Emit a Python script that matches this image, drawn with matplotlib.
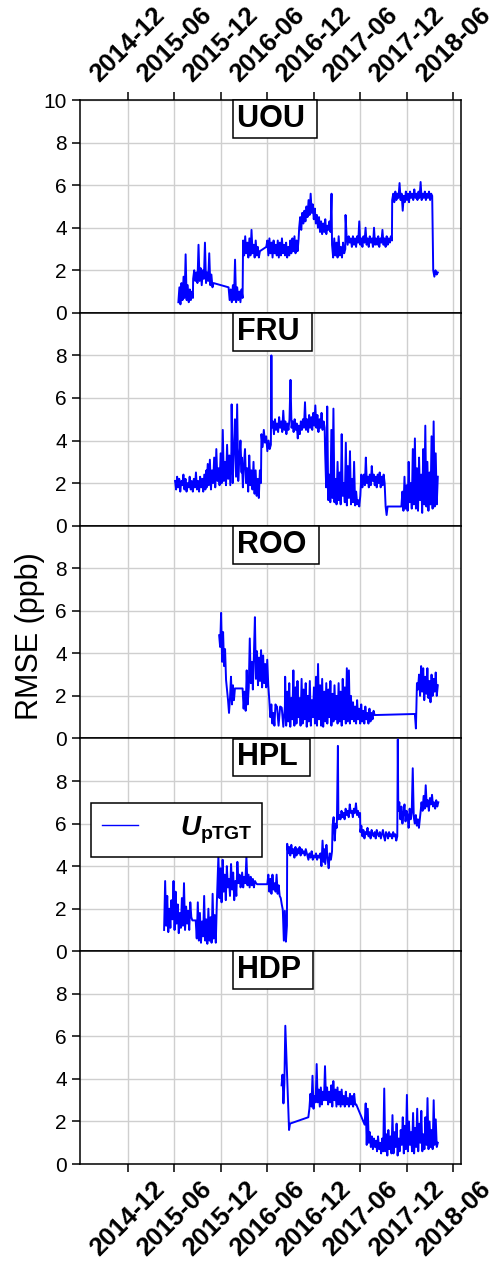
import numpy as np
import matplotlib
matplotlib.use("Agg")
import matplotlib.pyplot as plt
import matplotlib.dates as mdates

plt.rcParams['font.family'] = ['Liberation Sans', 'DejaVu Sans']
plt.rcParams['mathtext.fontset'] = 'custom'
plt.rcParams['mathtext.it'] = 'Liberation Sans:italic:bold'
plt.rcParams['mathtext.bf'] = 'Liberation Sans:bold'
plt.rcParams['mathtext.rm'] = 'Liberation Sans'

# RMSE of the pTGT uncertainty per station, in segments (start, end, values)
uou = [
    ("2015-06-18", "2015-08-14", [0.5, 1.2, 0.4, 1.4, 0.6, 1.7, 0.7, 2.75, 0.6, 1.3, 0.5, 1.1, 0.6, 1.0, 0.7]),
    ("2015-08-15", "2015-11-03", [1.6, 2.0, 1.5, 1.9, 1.4, 3.2, 1.5, 2.1, 1.3, 2.0, 1.6, 3.3, 1.4, 1.9,
                                  1.5, 2.8, 1.3, 1.8, 1.2, 1.4]),
    ("2016-01-01", "2016-02-25", [1.2, 0.6, 1.1, 0.5, 1.3, 0.6, 2.5, 0.5, 1.2, 0.6, 1.0, 0.5, 1.1, 0.7]),
    ("2016-02-27", "2016-05-03", [3.4, 2.7, 3.6, 2.8, 3.3, 2.6, 3.5, 2.7, 3.9, 2.8, 3.2, 2.6, 3.4, 2.7,
                                  3.1, 2.6, 2.9]),
    ("2016-05-28", "2016-10-02", [3.1, 3.4, 2.7, 3.5, 2.8, 3.3, 2.6, 3.4, 2.8, 3.2, 2.7, 3.4, 2.6, 3.3,
                                  2.7, 3.5, 2.8, 3.2, 2.7, 3.3, 2.6, 3.1, 2.7, 3.4, 2.8, 3.5, 2.9, 3.6,
                                  2.8, 3.4, 2.9, 3.5]),
    ("2016-10-04", "2017-02-08", [4.0, 4.5, 3.9, 4.7, 4.2, 4.8, 4.3, 5.0, 4.5, 5.3, 4.6, 5.6, 4.7, 5.1,
                                  4.4, 4.9, 4.2, 4.6, 4.0, 4.5, 3.8, 4.3, 3.7, 4.2, 3.8, 4.4, 3.7, 4.1,
                                  3.9, 4.3, 3.8, 5.6]),
    ("2017-02-10", "2017-04-03", [3.2, 2.6, 3.5, 2.7, 3.3, 2.6, 3.6, 2.7, 3.1, 2.6, 3.3, 2.8, 3.0]),
    ("2017-04-04", "2017-10-03", [4.6, 3.6, 3.2, 3.6, 3.3, 3.5, 3.1, 3.6, 3.2, 3.5, 3.1, 3.6, 3.3, 4.3,
                                  3.2, 3.5, 3.1, 3.6, 3.3, 4.0, 3.2, 3.5, 3.1, 3.6, 3.3, 3.5, 3.1, 4.0,
                                  3.2, 3.5, 3.2, 3.6, 3.1, 3.5, 3.3, 3.9, 3.2, 3.5, 3.1, 3.6, 3.2, 3.5,
                                  3.3, 3.6, 3.4]),
    ("2017-10-04", "2018-03-10", [5.3, 5.6, 5.2, 5.7, 5.3, 5.6, 5.4, 6.1, 5.3, 5.6, 4.8, 5.5, 5.2, 5.7,
                                  5.3, 5.6, 5.2, 5.7, 5.4, 5.6, 5.3, 5.8, 5.4, 5.6, 5.3, 5.7, 5.4, 6.15,
                                  5.3, 5.6, 5.4, 5.7, 5.3, 5.6, 5.4, 5.7, 5.3, 5.6, 5.5]),
    ("2018-03-14", "2018-04-01", [2.0, 1.7, 2.0, 1.8, 1.9]),
]

fru = [
    ("2015-06-05", "2015-10-06", [2.1, 1.7, 2.3, 1.8, 2.2, 1.6, 2.1, 1.9, 2.4, 1.7, 2.2, 1.6, 2.0, 1.8,
                                  2.3, 1.7, 2.1, 1.6, 2.2, 1.8, 2.5, 1.7, 2.1, 1.6, 2.3, 1.8, 2.2, 1.6,
                                  2.4, 1.7, 2.6]),
    ("2015-10-07", "2016-01-12", [1.8, 2.9, 1.9, 3.1, 1.7, 2.6, 2.0, 3.2, 1.8, 3.6, 2.1, 2.7, 1.9, 3.4,
                                  2.0, 4.5, 2.1, 3.0, 1.9, 3.8, 2.2, 3.3, 1.9, 3.5]),
    ("2016-01-13", "2016-02-21", [5.7, 2.0, 3.6, 5.0, 2.3, 5.7, 2.1, 3.2, 4.0, 2.5]),
    ("2016-02-22", "2016-05-07", [3.2, 1.8, 2.9, 3.6, 2.0, 2.7, 1.6, 3.3, 1.9, 2.6, 1.7, 3.0, 1.5, 2.6,
                                  1.4, 2.2, 1.3, 2.6, 2.0]),
    ("2016-05-09", "2016-06-15", [4.3, 3.7, 4.5, 3.9, 4.2, 3.5, 4.0, 3.6, 3.8]),
    ("2016-06-17", "2016-06-17", [8.0]),
    ("2016-06-19", "2017-01-12", [4.6, 4.9, 4.3, 5.0, 4.5, 4.8, 4.4, 5.1, 4.6, 4.9, 4.4, 5.4, 4.5, 4.9,
                                  4.3, 4.8, 4.5, 5.0, 6.85, 4.6, 4.9, 4.4, 5.0, 4.5, 4.8, 4.1, 4.7, 4.3,
                                  4.9, 4.5, 5.0, 4.6, 5.8, 4.5, 5.0, 4.4, 5.2, 4.6, 5.1, 4.5, 5.3, 4.7,
                                  5.65, 4.6, 5.2, 4.4, 5.0, 4.6, 5.3, 4.5, 4.9, 4.6]),
    ("2017-01-14", "2017-06-09", [3.4, 1.8, 5.6, 1.2, 2.4, 1.1, 4.5, 1.3, 5.5, 1.1, 2.2, 1.0, 3.0, 1.2,
                                  2.5, 1.0, 4.3, 1.4, 2.0, 1.1, 3.9, 0.95, 2.8, 1.3, 3.5, 1.0, 2.2, 1.1,
                                  3.0, 0.95, 1.6, 1.0, 1.2, 0.9, 1.4, 2.4, 1.8]),
    ("2017-06-11", "2017-09-16", [2.1, 2.4, 1.9, 3.2, 2.0, 2.3, 1.8, 2.4, 1.9, 2.8, 2.1, 2.4, 1.9, 2.3,
                                  1.8, 2.4, 2.0, 2.5, 1.8, 2.3, 1.9, 2.4, 2.0, 0.9, 0.5, 0.9]),
    ("2017-11-09", "2018-04-01", [0.9, 1.6, 0.7, 2.3, 0.8, 1.9, 0.7, 3.0, 1.1, 2.0, 0.8, 3.6, 1.0, 4.1,
                                  0.8, 2.7, 0.7, 3.2, 1.2, 2.4, 0.6, 3.6, 1.0, 4.7, 0.9, 3.0, 0.7, 2.5,
                                  1.0, 4.2, 0.8, 4.9, 0.9, 3.4, 1.0, 2.3]),
]

roo = [
    ("2015-11-25", "2016-01-26", [4.85, 4.3, 5.9, 3.6, 5.0, 3.4, 4.2, 2.75, 2.3, 1.8, 1.2, 1.9, 2.9,
                                  1.6, 2.5, 1.8, 2.35]),
    ("2016-02-25", "2016-07-07", [2.35, 1.4, 2.2, 1.3, 3.2, 1.6, 2.4, 4.7, 2.6, 3.6, 2.3, 3.9, 5.7, 2.8,
                                  4.1, 2.5, 3.8, 2.7, 4.15, 2.4, 3.9, 2.6, 3.5, 2.4, 3.7, 2.5, 1.8, 1.0,
                                  1.6, 0.7, 1.2, 0.6, 1.6, 1.5]),
    ("2016-07-09", "2016-08-09", [1.5, 0.6, 1.5, 1.45, 0.55, 1.5]),
    ("2016-08-10", "2017-07-27", [2.9, 0.6, 2.2, 0.8, 2.6, 0.55, 1.9, 0.9, 3.2, 0.6, 2.4, 0.7, 2.7, 1.0,
                                  1.9, 0.6, 2.8, 0.7, 2.3, 0.9, 2.6, 0.55, 2.0, 0.8, 2.7, 0.6, 1.8, 1.0,
                                  2.4, 0.7, 2.9, 0.6, 3.5, 0.9, 2.5, 0.6, 2.8, 0.55, 2.2, 0.8, 2.6, 0.7,
                                  2.3, 1.0, 2.7, 0.6, 2.1, 0.8, 2.5, 0.9, 2.0, 0.7, 2.6, 0.8, 2.2, 0.6,
                                  2.8, 0.9, 2.4, 0.7, 3.3, 0.8, 3.2, 0.7, 2.0, 0.9, 1.7, 0.8, 1.5, 0.7,
                                  1.8, 0.9, 1.4, 0.7, 1.6, 0.8, 1.3, 0.7, 1.5, 0.9, 1.2, 0.7, 1.4, 0.8,
                                  1.2, 0.9, 1.3, 1.1]),
    ("2018-01-01", "2018-04-01", [1.15, 0.47, 2.6, 2.3, 3.0, 2.0, 3.4, 2.2, 3.3, 1.8, 2.9, 2.1, 3.3,
                                  1.9, 2.7, 1.7, 3.0, 2.0, 2.8, 2.2, 3.1, 2.0, 2.5]),
]

hpl = [
    ("2015-04-23", "2015-08-12", [1.0, 3.3, 1.2, 2.6, 0.9, 2.0, 1.1, 2.4, 1.5, 3.3, 1.0, 2.8, 1.3, 2.2,
                                  0.85, 1.8, 1.1, 2.5, 1.2, 3.2, 1.0, 2.1, 1.3, 1.9, 1.0, 2.3, 1.6, 1.45]),
    ("2015-08-25", "2015-11-16", [1.45, 0.6, 2.3, 0.5, 1.8, 0.4, 1.4, 0.7, 2.6, 0.5, 1.5, 0.35, 2.0,
                                  0.5, 1.6, 0.4, 2.7, 0.6, 1.7, 0.4, 2.3]),
    ("2015-11-18", "2016-02-17", [3.0, 4.5, 2.5, 3.9, 2.3, 4.3, 2.8, 3.6, 2.4, 4.0, 3.0, 3.4, 2.6, 4.1,
                                  2.9, 3.7, 2.4, 3.3, 2.6, 4.2, 3.2, 3.6, 3.0]),
    ("2016-02-19", "2016-04-22", [3.1, 3.7, 3.0, 3.5, 3.2, 4.45, 3.1, 3.6, 3.0, 3.5, 3.1, 3.4, 3.0, 3.3,
                                  3.2, 3.15]),
    ("2016-06-01", "2016-08-17", [3.15, 3.6, 2.8, 3.4, 2.7, 3.6, 2.9, 3.2, 2.8, 3.6, 2.7, 3.1, 2.6, 2.5,
                                  2.2, 1.95, 0.5, 1.9, 0.45, 1.2]),
    ("2016-08-18", "2016-11-03", [5.05, 4.6, 4.9, 4.5, 5.0, 4.6, 4.8, 4.4, 4.9, 4.5, 4.8, 4.6, 4.9, 4.5,
                                  4.8, 4.6, 4.7, 4.5, 4.8, 4.6]),
    ("2016-11-05", "2017-01-08", [4.5, 4.3, 4.6, 4.4, 4.7, 4.3, 4.5, 4.4, 4.6, 4.3, 4.5, 4.4, 4.6, 4.0,
                                  5.2, 4.2]),
    ("2017-01-10", "2017-02-10", [4.8, 4.1, 5.0, 4.4, 3.9, 4.6, 4.3, 4.7]),
    ("2017-02-12", "2017-03-05", [5.9, 6.3, 5.2, 6.0, 5.8, 9.65]),
    ("2017-03-07", "2017-05-31", [6.2, 6.4, 6.2, 6.6, 6.3, 6.5, 6.2, 6.7, 6.4, 6.6, 6.3, 6.9, 6.5, 6.6,
                                  6.3, 6.7, 6.5, 6.95, 6.4, 6.6, 6.3, 6.5]),
    ("2017-06-01", "2017-10-24", [5.6, 5.9, 5.4, 5.7, 5.3, 5.6, 5.5, 5.8, 5.4, 5.6, 5.3, 5.7, 5.5, 5.4,
                                  5.6, 5.3, 5.7, 5.5, 5.4, 5.6, 5.3, 5.5, 5.7, 5.4, 5.2, 5.6, 5.5, 5.3,
                                  5.6, 5.4, 5.5, 5.3, 5.6, 5.4, 5.5, 5.2, 5.4]),
    ("2017-10-26", "2017-10-26", [9.95]),
    ("2017-10-28", "2018-01-21", [6.6, 7.0, 6.2, 6.8, 6.0, 6.5, 6.9, 6.1, 6.6, 6.4, 5.8, 6.7, 6.2, 6.5,
                                  8.6, 6.3, 6.0, 6.4, 5.9, 6.2, 5.8, 6.3]),
    ("2018-01-23", "2018-04-03", [6.5, 7.0, 6.6, 7.3, 6.7, 7.8, 6.8, 7.1, 6.6, 7.2, 6.9, 7.35, 6.8, 7.0,
                                  6.7, 7.1, 6.8, 7.0]),
]

hdp = [
    ("2016-07-27", "2016-08-29", [3.7, 4.2, 2.85, 3.8, 6.5, 5.3, 4.0, 2.8, 1.6, 1.9]),
    ("2016-11-09", "2017-05-16", [2.2, 2.6, 3.3, 2.7, 4.15, 2.6, 3.2, 2.9, 4.7, 2.9, 3.5, 2.7, 3.6, 2.8,
                                  3.4, 3.0, 4.6, 3.0, 3.6, 2.8, 3.4, 2.9, 3.7, 2.7, 3.9, 3.0, 3.5, 2.7,
                                  3.6, 2.8, 3.4, 2.7, 3.5, 2.8, 3.2, 2.7, 3.4, 2.8, 3.1, 2.7, 3.3, 2.8,
                                  3.2, 2.7, 3.3, 2.8, 2.8]),
    ("2017-06-18", "2018-04-01", [1.85, 2.85, 0.9, 2.6, 1.0, 1.5, 0.8, 1.3, 0.7, 1.2, 0.8, 1.1, 0.6, 1.3,
                                  0.7, 1.0, 0.5, 1.2, 0.6, 3.55, 0.6, 1.4, 0.4, 1.6, 0.7, 1.3, 0.5, 2.3,
                                  0.5, 1.5, 0.8, 1.9, 0.4, 1.2, 0.6, 1.6, 0.9, 2.2, 0.5, 1.8, 0.7, 3.25,
                                  0.6, 2.0, 0.9, 1.5, 0.6, 2.4, 0.5, 1.7, 0.8, 2.6, 0.6, 1.9, 1.0, 2.5,
                                  0.6, 1.4, 0.7, 2.2, 0.9, 3.1, 0.7, 2.0, 0.8, 1.6, 0.7, 3.0, 0.9, 2.1,
                                  0.8, 1.0]),
]

stations = ["UOU", "FRU", "ROO", "HPL", "HDP"]
series = [uou, fru, roo, hpl, hdp]
tick_dates = ["2014-12-01", "2015-06-01", "2015-12-01", "2016-06-01", "2016-12-01",
              "2017-06-01", "2017-12-01", "2018-06-01"]
tick_labels = ["2014-12", "2015-06", "2015-12", "2016-06", "2016-12",
               "2017-06", "2017-12", "2018-06"]


def build(segs):
    xs, ys = [], []
    for start, end, vals in segs:
        t0 = mdates.datestr2num(start)
        t1 = mdates.datestr2num(end)
        xs.extend(np.linspace(t0, t1, len(vals)))
        ys.extend(vals)
    return np.array(xs), np.array(ys)


fig, axes = plt.subplots(5, 1, sharex=True, figsize=(4.95, 12.65), dpi=100)
fig.subplots_adjust(left=0.1616, right=0.9313, bottom=0.0798, top=0.9209, hspace=0)

ticks = [mdates.datestr2num(d) for d in tick_dates]

for i, (ax, name, segs) in enumerate(zip(axes, stations, series)):
    x, y = build(segs)
    line, = ax.plot(x, y, color='blue', lw=1.4, zorder=3)
    ax.set_ylim(0, 10)
    ax.set_xlim(mdates.datestr2num("2014-05-28"), mdates.datestr2num("2018-07-01"))
    ax.set_yticks([0, 2, 4, 6, 8, 10] if i == 0 else [0, 2, 4, 6, 8])
    ax.set_xticks(ticks, labels=tick_labels)
    ax.grid(True, color='#cfcfcf', lw=1.0, zorder=0)
    ax.set_axisbelow(True)
    for s in ax.spines.values():
        s.set_linewidth(1.1)
    ax.tick_params(axis='y', labelsize=15, width=1.1, length=6)
    ax.tick_params(axis='x', width=1.1, length=6, labelrotation=45,
                   top=(i == 0), labeltop=(i == 0),
                   bottom=(i == 4), labelbottom=(i == 4))
    ax.text(0.412, 0.981, name + " ", transform=ax.transAxes, ha='left', va='top',
            fontsize=22, fontweight='bold', zorder=6,
            bbox=dict(boxstyle='square,pad=0.13', fc='white', ec='black', lw=1.1))
    if name == "HPL":
        ax.legend([line], [r'$U_{\mathbf{pTGT}}$'], loc='upper left',
                  bbox_to_anchor=(0.029, 0.452, 0.449, 0.244), mode='expand',
                  borderaxespad=0, fancybox=False, edgecolor='black', framealpha=1,
                  fontsize=20, handlelength=1.3, handletextpad=1.5, borderpad=0.4)
        leg = ax.get_legend()
        leg.get_frame().set_linewidth(1.1)
        leg.get_lines()[0].set_linewidth(1.0)

fig.text(0.0606, 0.497, 'RMSE (ppb)', rotation=90, ha='center', va='center', fontsize=22)

# date labels: bold, set once the tick objects exist
fig.canvas.draw()
for ax in axes:
    for t in ax.xaxis.get_major_ticks():
        for lab in (t.label1, t.label2):
            lab.set_fontweight('bold')
            lab.set_fontsize(18.5)

fig.savefig('out.png', dpi=100)
